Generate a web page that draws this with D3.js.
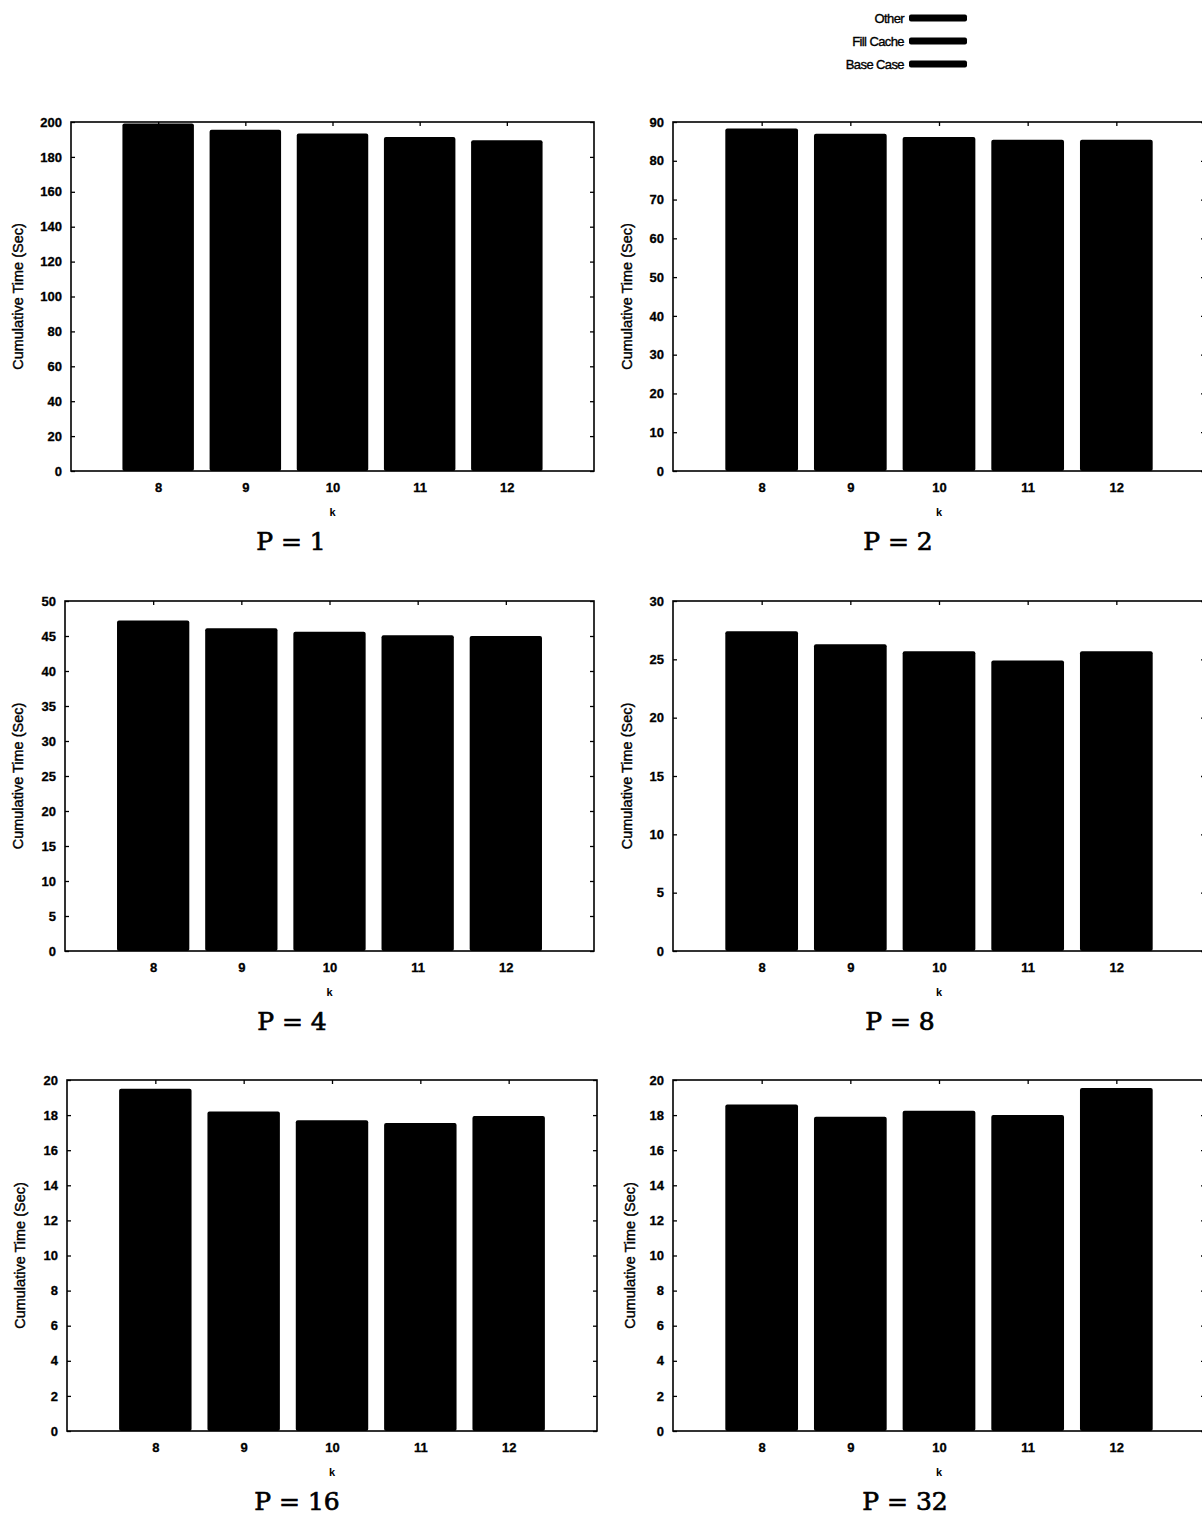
<!DOCTYPE html>
<html>
<head>
<meta charset="utf-8">
<script src="https://cdn.jsdelivr.net/npm/d3@7"></script>
<style>
  html, body { margin: 0; padding: 0; background: #fff; }
  svg { display: block; }
</style>
</head>
<body>
<svg id="chart" width="1202" height="1515"></svg>
<script>
// Block size k on the x axis
const kValues = [8, 9, 10, 11, 12];

// Processor counts, one panel each
const procCounts = [1, 2, 4, 8, 16, 32];

// Cumulative time (seconds) per k, one array per processor count
const timeP1  = [199.2, 195.6, 193.4, 191.4, 189.6];
const timeP2  = [88.3, 87.0, 86.1, 85.4, 85.4];
const timeP4  = [47.2, 46.1, 45.6, 45.1, 45.0];
const timeP8  = [27.4, 26.3, 25.7, 24.9, 25.7];
const timeP16 = [19.5, 18.2, 17.7, 17.55, 17.95];
const timeP32 = [18.6, 17.9, 18.25, 18.0, 19.55];

// Y-axis extents and tick steps per panel
const yMaxima = [200, 90, 50, 30, 20, 20];
const yTickSteps = [20, 10, 5, 5, 2, 2];

// Legend entries (stack components)
const legendLabels = ["Other", "Fill Cache", "Base Case"];

const seriesByPanel = [timeP1, timeP2, timeP4, timeP8, timeP16, timeP32];

// Frame geometry for each panel
const frames = [
  { left: 71,  right: 594,  top: 122,  bottom: 471,  titleX: 18,  captionX: 291 },
  { left: 673, right: 1205, top: 122,  bottom: 471,  titleX: 627, captionX: 898 },
  { left: 65,  right: 594,  top: 601,  bottom: 951,  titleX: 18,  captionX: 292 },
  { left: 673, right: 1205, top: 601,  bottom: 951,  titleX: 627, captionX: 900 },
  { left: 67,  right: 597,  top: 1080, bottom: 1431, titleX: 20,  captionX: 297 },
  { left: 673, right: 1205, top: 1080, bottom: 1431, titleX: 630, captionX: 905 }
];

const svg = d3.select("#chart");
const sans = "'Liberation Sans', Arial, Helvetica, sans-serif";
const serif = "'DejaVu Serif', 'Liberation Serif', serif";

// Legend at the top
const legend = svg.append("g").attr("class", "legend");
legendLabels.forEach((label, i) => {
  const y = 18 + i * 23;
  legend.append("text")
    .attr("x", 904).attr("y", y + 5)
    .attr("text-anchor", "end")
    .attr("font-family", sans)
    .attr("font-size", 13)
    .attr("letter-spacing", -0.6)
    .attr("stroke", "#000")
    .attr("stroke-width", 0.35)
    .attr("fill", "#000")
    .text(label);
  legend.append("rect")
    .attr("x", 909).attr("y", y - 3.5)
    .attr("width", 58).attr("height", 7)
    .attr("rx", 2)
    .attr("fill", "#000");
});

procCounts.forEach((p, i) => {
  const f = frames[i];
  const values = seriesByPanel[i];
  const g = svg.append("g").attr("class", "panel");

  const x = d3.scaleLinear().domain([7, 13]).range([f.left, f.right]);
  const y = d3.scaleLinear().domain([0, yMaxima[i]]).range([f.bottom, f.top]);
  const yTicks = d3.range(0, yMaxima[i] + yTickSteps[i] / 2, yTickSteps[i]);
  const barW = (x(8) - x(7)) * 0.82;

  // Bars
  g.selectAll("rect.bar")
    .data(kValues.map((k, j) => ({ k, v: values[j] })))
    .join("rect")
    .attr("class", "bar")
    .attr("x", d => x(d.k) - barW / 2)
    .attr("y", d => y(d.v))
    .attr("width", barW)
    .attr("height", d => y(0) - y(d.v))
    .attr("rx", 2)
    .attr("fill", "#000");

  // Left axis with inward ticks and labels
  const left = g.append("g")
    .attr("transform", `translate(${f.left},0)`)
    .call(d3.axisLeft(y).tickValues(yTicks).tickSize(-4).tickPadding(9).tickFormat(d3.format("d")));
  // Right axis, ticks only
  const right = g.append("g")
    .attr("transform", `translate(${f.right},0)`)
    .call(d3.axisRight(y).tickValues(yTicks).tickSize(-4).tickFormat(""));
  // Top axis, ticks only
  const top = g.append("g")
    .attr("transform", `translate(0,${f.top})`)
    .call(d3.axisTop(x).tickValues(kValues).tickSize(-4).tickFormat(""));
  // Bottom axis with k labels
  const bottom = g.append("g")
    .attr("transform", `translate(0,${f.bottom})`)
    .call(d3.axisBottom(x).tickValues(kValues).tickSize(-4).tickPadding(12).tickFormat(d3.format("d")));

  [left, right, top, bottom].forEach(a => {
    a.select(".domain").remove();
    a.selectAll("line").attr("stroke", "#000").attr("stroke-width", 1.3);
    a.selectAll("text")
      .attr("font-family", sans)
      .attr("font-weight", "bold")
      .attr("font-size", 13)
      .attr("stroke", "#000")
      .attr("stroke-width", 0.3)
      .attr("fill", "#000");
  });

  // Plot frame
  g.append("rect")
    .attr("x", f.left).attr("y", f.top)
    .attr("width", f.right - f.left).attr("height", f.bottom - f.top)
    .attr("fill", "none")
    .attr("stroke", "#000")
    .attr("stroke-width", 1.6);

  // Axis titles
  g.append("text")
    .attr("x", x(10)).attr("y", f.bottom + 45)
    .attr("text-anchor", "middle")
    .attr("font-family", sans)
    .attr("font-weight", "bold")
    .attr("font-size", 11)
    .text("k");

  g.append("text")
    .attr("transform", `translate(${f.titleX},${(f.top + f.bottom) / 2}) rotate(-90)`)
    .attr("text-anchor", "middle")
    .attr("dy", "0.35em")
    .attr("font-family", sans)
    .attr("font-size", 14.5)
    .attr("stroke", "#000")
    .attr("stroke-width", 0.4)
    .text("Cumulative Time (Sec)");

  // Panel caption
  g.append("text")
    .attr("x", f.captionX)
    .attr("y", f.bottom + 79)
    .attr("text-anchor", "middle")
    .attr("font-family", serif)
    .attr("font-size", 25)
    .attr("stroke", "#000")
    .attr("stroke-width", 0.7)
    .attr("fill", "#000")
    .text(`P = ${p}`);
});
</script>
</body>
</html>
